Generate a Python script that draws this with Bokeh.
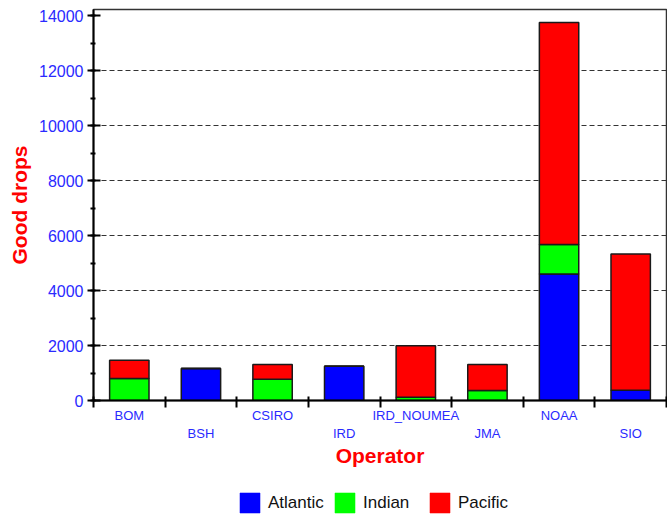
from bokeh.plotting import figure
from bokeh.layouts import column
from bokeh.models import (Range1d, LinearAxis, FixedTicker, SingleIntervalTicker,
                          Legend, LegendItem, ColumnDataSource)
from bokeh.embed import file_html
from bokeh.resources import INLINE

categories = ["BOM", "BSH", "CSIRO", "IRD", "IRD_NOUMEA", "JMA", "NOAA", "SIO"]
atlantic = [0, 1160, 0, 1250, 0, 0, 4600, 370]
indian = [800, 0, 770, 0, 120, 360, 1070, 0]
pacific = [660, 0, 540, 0, 1870, 950, 8080, 4960]
series = ["Atlantic", "Indian", "Pacific"]
colors = ["#0000ff", "#00ff00", "#ff0000"]
y_grid_values = [2000, 4000, 6000, 8000, 10000, 12000]

positions = [i + 0.5 for i in range(len(categories))]
src = ColumnDataSource(dict(x=positions, Atlantic=atlantic, Indian=indian, Pacific=pacific))

FONT = "Liberation Sans"
TICK_BLUE = "#2a2aff"

p = figure(width=667, height=478, x_range=Range1d(0, len(categories)),
           y_range=Range1d(0, 14220), output_backend="svg", toolbar_location=None,
           min_border_left=93, min_border_right=1, min_border_top=9, min_border_bottom=78)
p.background_fill_color = "white"
p.border_fill_color = "white"
p.outline_line_color = "#333333"
p.outline_line_width = 1.5

renderers = p.vbar_stack(series, x="x", width=0.55, fill_color=colors,
                         line_color="#1a1a1a", line_width=1.5, source=src)

# grid
p.xgrid.visible = False
p.ygrid.ticker = FixedTicker(ticks=y_grid_values)
p.ygrid.grid_line_color = "#333333"
p.ygrid.grid_line_dash = "5 3"
p.ygrid.grid_line_width = 1

# y axis
ya = p.yaxis[0]
ya.ticker = SingleIntervalTicker(interval=2000, num_minor_ticks=2)
ya.axis_label = "Good drops"
ya.axis_label_text_font = FONT
ya.axis_label_text_font_size = "21px"
ya.axis_label_text_font_style = "bold"
ya.axis_label_text_color = "#ff0000"
ya.axis_label_standoff = 5
ya.major_label_text_font = FONT
ya.major_label_text_font_size = "16px"
ya.major_label_text_color = TICK_BLUE
ya.major_label_standoff = 4
ya.axis_line_color = "black"
ya.axis_line_width = 2
ya.major_tick_line_color = "black"
ya.major_tick_line_width = 2
ya.major_tick_in = 7
ya.major_tick_out = 6
ya.minor_tick_line_color = "black"
ya.minor_tick_line_width = 2
ya.minor_tick_in = 2
ya.minor_tick_out = 3

# x axis, first row of labels
xa = p.xaxis[0]
xa.ticker = FixedTicker(ticks=positions[0::2], minor_ticks=list(range(0, len(categories) + 1)))
xa.major_label_overrides = {positions[i]: categories[i] for i in range(0, len(categories), 2)}
xa.major_tick_line_color = None
xa.major_tick_in = 0
xa.major_tick_out = 0
xa.minor_tick_line_color = "black"
xa.minor_tick_line_width = 2
xa.minor_tick_in = 4
xa.minor_tick_out = 7
xa.axis_line_color = "black"
xa.axis_line_width = 2
xa.major_label_standoff = 0
xa.major_label_text_font = FONT
xa.major_label_text_font_size = "13px"
xa.major_label_text_color = TICK_BLUE

# x axis, second row of labels
xa2 = LinearAxis(ticker=FixedTicker(ticks=positions[1::2], minor_ticks=[]),
                 major_label_overrides={positions[i]: categories[i] for i in range(1, len(categories), 2)})
xa2.axis_line_color = None
xa2.major_tick_line_color = None
xa2.minor_tick_line_color = None
xa2.major_tick_in = 0
xa2.major_tick_out = 0
xa2.major_label_standoff = 0
xa2.major_label_text_font = FONT
xa2.major_label_text_font_size = "13px"
xa2.major_label_text_color = TICK_BLUE
xa2.axis_label = "Operator"
xa2.axis_label_standoff = 0
xa2.axis_label_text_font = FONT
xa2.axis_label_text_font_size = "21px"
xa2.axis_label_text_font_style = "bold"
xa2.axis_label_text_color = "#ff0000"
p.add_layout(xa2, "below")

# legend strip below the chart (its hidden bars only provide the legend swatches)
p2 = figure(width=667, height=39, x_range=Range1d(100, 101), y_range=Range1d(-1e6, -1e6 + 1),
            output_backend="svg", toolbar_location=None,
            x_axis_location=None, y_axis_location=None,
            min_border_left=0, min_border_right=0, min_border_top=0, min_border_bottom=0)
p2.grid.visible = False
p2.outline_line_color = None
p2.background_fill_color = "white"
p2.border_fill_color = "white"
legend_renderers = p2.vbar_stack(series, x="x", width=0.55, fill_color=colors,
                                 line_color=colors, line_alpha=0.55, source=src)
for r in legend_renderers:
    r.visible = False
items = [LegendItem(label=s, renderers=[r]) for s, r in zip(series, legend_renderers)]
legend = Legend(items=items, orientation="horizontal", location=(144, 2),
                glyph_width=25, glyph_height=25, label_standoff=6, label_width=64,
                spacing=0, padding=0, margin=0, border_line_color=None,
                background_fill_alpha=0, click_policy="none",
                label_text_font=FONT, label_text_font_size="17px",
                label_text_color="#111111")
p2.add_layout(legend, "center")

layout = column(p, p2, spacing=0)
open("out.html", "w").write(file_html(layout, INLINE))
